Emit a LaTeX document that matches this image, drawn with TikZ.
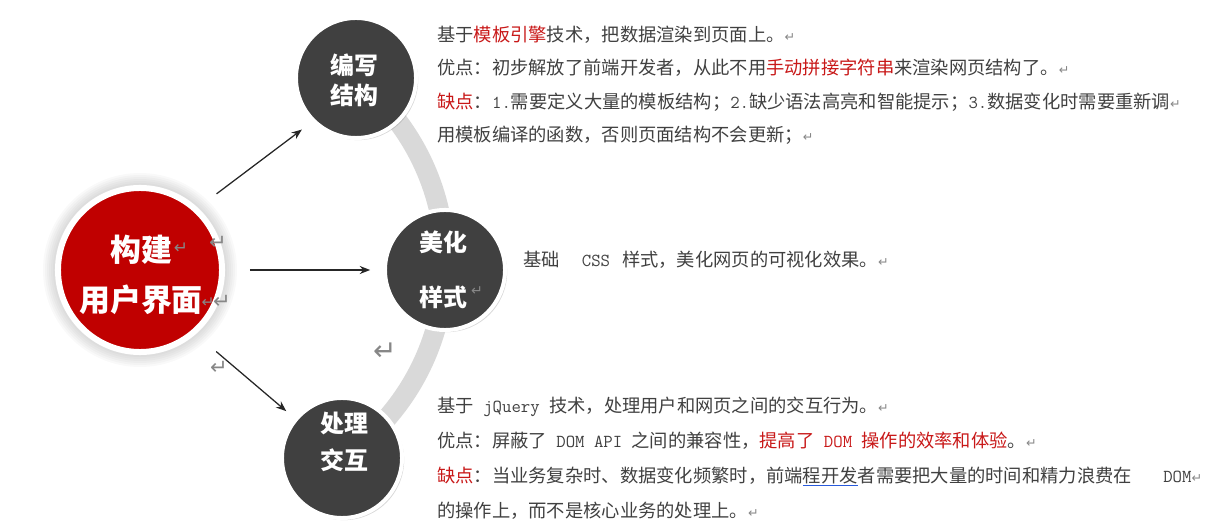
\documentclass[tikz,border=0pt]{standalone}
\usepackage{fontspec}
\usepackage{xcolor}
\usepackage{tikz}
\usetikzlibrary{arrows.meta,positioning,shadows}
\newfontfamily\cjk{Noto Sans CJK SC}
\newfontfamily\symb{DejaVu Sans}
\definecolor{uired}{RGB}{192,0,0}
\definecolor{hlred}{RGB}{200,24,24}
\definecolor{darkdisk}{RGB}{64,64,64}
\definecolor{ringgray}{RGB}{217,217,217}
\definecolor{txtgray}{RGB}{64,64,64}
\definecolor{markgray}{RGB}{135,135,135}
\definecolor{linkblue}{RGB}{40,90,220}
\newcommand{\ret}{{\symb\fontsize{9pt}{9pt}\selectfont\textcolor{markgray}{↵}}}
\newcommand{\lat}[1]{{\fontsize{13pt}{15pt}\ttfamily #1}}
\newcommand{\hl}[1]{\textcolor{hlred}{#1}}

\begin{document}
\begin{tikzpicture}[x=0.025cm, y=-0.025cm,
    every node/.style={font=\cjk\fontsize{13pt}{16pt}\selectfont, text=txtgray},
    hub/.style={circle, fill=uired, draw=white, line width=0.15cm, minimum size=4.1cm, inner sep=0pt},
    topic/.style={circle, fill=darkdisk, draw=white, line width=0.1cm, minimum size=3cm, inner sep=0pt,
      drop shadow={shadow xshift=1.5pt, shadow yshift=-1.5pt, opacity=0.3}},
    hubtxt/.style={font=\cjk\bfseries\fontsize{22pt}{26pt}\selectfont, text=white, inner sep=0pt},
    topictxt/.style={font=\cjk\bfseries\fontsize{17pt}{20pt}\selectfont, text=white, inner sep=0pt},
    para/.style={anchor=base west, inner sep=0pt},
    retmark/.style={font=\symb\fontsize{15pt}{15pt}\selectfont, text=markgray, inner sep=0pt},
    arr/.style={-{Stealth[length=0.26cm, width=0.2cm]}, line width=0.9pt, black!85}]
  \useasboundingbox (0,0) rectangle (1208,530);

  % grey ring behind the three topics
  \coordinate (hubc) at (209,263);
  \draw[ringgray, line width=0.5cm] (hubc) ++(60:236) arc[start angle=60, end angle=-60, radius=236];

  % main circle with a soft halo
  \foreach \r in {87,89,...,97}
    \fill[black, opacity=0.025] (140,270) circle (\r);
  \node[hub] (main) at (140,270) {};
  \node[hubtxt] (main1) at (141,250) {构建};
  \node[hubtxt] (main2) at (141,300) {用户界面};

  % topics
  \node[topic] (write) at (356,78) {};
  \node[topictxt] (write1) at (354,65) {编写};
  \node[topictxt] (write2) at (354,95) {结构};

  \node[topic] (style) at (445,270) {};
  \node[topictxt] (style1) at (443,242) {美化};
  \node[topictxt] (style2) at (443,297) {样式};

  \node[topic] (inter) at (342,458) {};
  \node[topictxt] (inter1) at (344,423) {处理};
  \node[topictxt] (inter2) at (344,460) {交互};

  % arrows
  \draw[arr, shorten <=0.58cm, shorten >=0.32cm] (main.47) -- (write.225);
  \draw[arr, shorten <=0.62cm, shorten >=0.32cm] (main.east) -- (style.west);
  \draw[arr, shorten <=0.67cm, shorten >=0.27cm] (main.-49) -- (inter.140);

  % stray paragraph marks
  \node[retmark, font=\symb\fontsize{12pt}{12pt}\selectfont] (rA) at (181,248) {↵};
  \node[retmark] (rB) at (218,243) {↵};
  \node[retmark, font=\symb\fontsize{11pt}{11pt}\selectfont] (rC) at (208,303) {↵};
  \node[retmark] (rD) at (222,302) {↵};
  \node[retmark] (rE) at (219,368) {↵};
  \node[retmark, font=\symb\fontsize{20pt}{20pt}\selectfont] (rF) at (385,352) {↵};
  \node[retmark, font=\symb\fontsize{10pt}{10pt}\selectfont] (rG) at (477,291) {↵};

  % text for writing structure
  \node[para] (t1) at (437,42) {基于\hl{模板引擎}技术，把数据渲染到页面上。\ret};
  \node[para] (t2) at (437,75) {优点：初步解放了前端开发者，从此不用\hl{手动拼接字符串}来渲染网页结构了。\ret};
  \node[para] (t3) at (437,109) {\hl{缺点}：\lat{1.}需要定义大量的模板结构；\lat{2.}缺少语法高亮和智能提示；\lat{3.}数据变化时需要重新调\ret};
  \node[para] (t4) at (437,142) {用模板编译的函数，否则页面结构不会更新；\ret};

  % text for styling
  \node[para] (m1) at (523,267) {基础\hspace{0.55cm}\lat{CSS}\hspace{0.3cm}样式，美化网页的可视化效果。\ret};

  % text for interaction
  \node[para] (b1) at (437,412) {基于\lat{ jQuery }技术，处理用户和网页之间的交互行为。\ret};
  \node[para] (b2) at (437,447) {优点：屏蔽了\lat{ DOM API }之间的兼容性，\hl{提高了\lat{ DOM }操作的效率和体验}。\ret};
  \node[para] (b3) at (437,482) {\hl{缺点}：当业务复杂时、数据变化频繁时，前端\textcolor{linkblue}{\underline{\textcolor{txtgray}{程开发}}}者需要把大量的时间和精力浪费在};
  \node[para] (b3x) at (1163,482) {\lat{DOM}\ret};
  \node[para] (b4) at (437,517) {的操作上，而不是核心业务的处理上。\ret};
\end{tikzpicture}
\end{document}
